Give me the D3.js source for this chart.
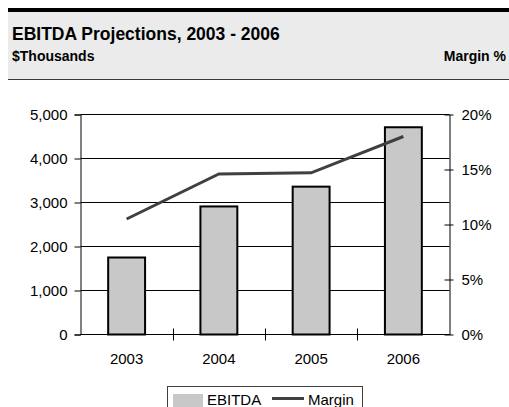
<!DOCTYPE html>
<html>
<head>
<meta charset="utf-8">
<script src="https://cdnjs.cloudflare.com/ajax/libs/d3/7.8.5/d3.min.js"></script>
<style>
  html, body { margin: 0; padding: 0; background: #fff; }
  svg { display: block; font-family: "Liberation Sans", Arial, sans-serif; }
</style>
</head>
<body>
<svg id="chart" width="509" height="407"></svg>
<script>
// EBITDA ($ thousands) with margin % on a secondary axis
const years = ["2003", "2004", "2005", "2006"];
const ebitda = [1750, 2910, 3360, 4710];
const margin = [10.5, 14.6, 14.7, 18.0];
const leftTicks = [0, 1000, 2000, 3000, 4000, 5000];
const rightTicks = [0, 5, 10, 15, 20];

const svg = d3.select("#chart");

// Header band
svg.append("rect").attr("x", 8).attr("y", 12).attr("width", 501).attr("height", 67).attr("fill", "#ebebeb");
svg.append("rect").attr("x", 8).attr("y", 8).attr("width", 501).attr("height", 4).attr("fill", "#000");
svg.append("line").attr("x1", 8).attr("x2", 509).attr("y1", 79.5).attr("y2", 79.5)
  .attr("stroke", "#3a3a3a").attr("stroke-width", 1.2);

svg.append("text").attr("x", 12).attr("y", 40)
  .attr("font-size", 17.5).attr("font-weight", "bold").attr("fill", "#000")
  .text("EBITDA Projections, 2003 - 2006");
svg.append("text").attr("x", 12).attr("y", 61)
  .attr("font-size", 14).attr("font-weight", "bold").attr("fill", "#000")
  .text("$Thousands");
svg.append("text").attr("x", 506).attr("y", 61).attr("text-anchor", "end")
  .attr("font-size", 14).attr("font-weight", "bold").attr("fill", "#000")
  .text("Margin %");

// Plot area
const x0 = 80.5, x1 = 449.5, yTop = 114.5, yBot = 334.5;

const x = d3.scaleBand().domain(years).range([x0, x1]).paddingInner(0.6).paddingOuter(0.3);
const step = (x1 - x0) / years.length;
const yL = d3.scaleLinear().domain([0, 5000]).range([yBot, yTop]);
const yR = d3.scaleLinear().domain([0, 20]).range([yBot, yTop]);

const g = svg.append("g");

// Gridlines
g.selectAll("line.grid").data(leftTicks).join("line")
  .attr("class", "grid")
  .attr("x1", x0).attr("x2", x1)
  .attr("y1", d => Math.round(yL(d) - 0.5) + 0.5).attr("y2", d => Math.round(yL(d) - 0.5) + 0.5)
  .attr("stroke", "#000").attr("stroke-width", 1);

// Bars
g.selectAll("rect.bar").data(years).join("rect")
  .attr("class", "bar")
  .attr("x", d => x(d))
  .attr("y", (d, i) => yL(ebitda[i]))
  .attr("width", x.bandwidth())
  .attr("height", (d, i) => yBot - yL(ebitda[i]))
  .attr("fill", "#c8c8c8").attr("stroke", "#000").attr("stroke-width", 2);

// Left axis
const leftAxis = d3.axisLeft(yL).tickValues(leftTicks).tickSize(6).tickPadding(7)
  .tickFormat(d3.format(","));
const la = svg.append("g").attr("transform", `translate(${x0},0)`).call(leftAxis);
la.select(".domain").attr("stroke", "#000");
la.selectAll(".tick line").attr("stroke", "#000");
la.selectAll("text").attr("font-size", 15).attr("fill", "#000").attr("font-family", "Liberation Sans, Arial, sans-serif");

// Right axis (ticks cross the axis line)
const rightAxis = d3.axisRight(yR).tickValues(rightTicks).tickSizeInner(4).tickSizeOuter(0).tickPadding(8)
  .tickFormat(d => d + "%");
const ra = svg.append("g").attr("transform", `translate(${x1},0)`).call(rightAxis);
ra.select(".domain").attr("stroke", "#000");
ra.selectAll(".tick line").attr("x1", -5).attr("stroke", "#000");
ra.selectAll("text").attr("font-size", 15).attr("fill", "#000").attr("font-family", "Liberation Sans, Arial, sans-serif");

// Bottom axis with crossing ticks between categories
const xa = svg.append("g");
xa.append("line").attr("x1", x0).attr("x2", x1).attr("y1", yBot).attr("y2", yBot).attr("stroke", "#000");
xa.selectAll("line.sep").data(d3.range(1, years.length)).join("line")
  .attr("class", "sep")
  .attr("x1", i => Math.round(x0 + i * step) + 0.5).attr("x2", i => Math.round(x0 + i * step) + 0.5)
  .attr("y1", yBot - 6).attr("y2", yBot + 6).attr("stroke", "#000");
xa.selectAll("text").data(years).join("text")
  .attr("x", d => x(d) + x.bandwidth() / 2)
  .attr("y", 364).attr("text-anchor", "middle")
  .attr("font-size", 15).attr("fill", "#000")
  .text(d => d);

// Margin line
const line = d3.line()
  .x((d, i) => x(years[i]) + x.bandwidth() / 2)
  .y(d => yR(d));
svg.append("path").datum(margin).attr("d", line)
  .attr("fill", "none").attr("stroke", "#404040").attr("stroke-width", 3);

// Legend
const lg = svg.append("g");
lg.append("rect").attr("x", 167.5).attr("y", 386.5).attr("width", 195).attr("height", 40)
  .attr("fill", "#fff").attr("stroke", "#404040").attr("stroke-width", 1);
lg.append("rect").attr("x", 173).attr("y", 394).attr("width", 30).attr("height", 20).attr("fill", "#c8c8c8");
lg.append("text").attr("x", 207).attr("y", 405).attr("font-size", 15).attr("fill", "#000").text("EBITDA");
lg.append("line").attr("x1", 272).attr("x2", 304).attr("y1", 398.5).attr("y2", 398.5)
  .attr("stroke", "#404040").attr("stroke-width", 3);
lg.append("text").attr("x", 308).attr("y", 405).attr("font-size", 15).attr("fill", "#000").text("Margin");
</script>
</body>
</html>
